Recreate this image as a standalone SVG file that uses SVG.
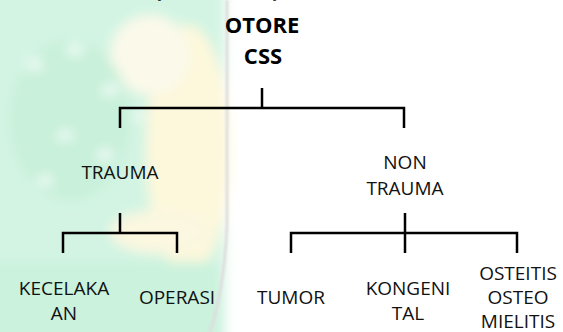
<svg xmlns="http://www.w3.org/2000/svg" width="563" height="332" viewBox="0 0 563 332">
  <style>
    .lbl { font-family: "Open Sans", "Liberation Sans", sans-serif; font-size: 19px; fill: #111; text-anchor: middle; }
    .ttl { font-family: "Open Sans", "Liberation Sans", sans-serif; font-size: 22px; font-weight: bold; fill: #000; text-anchor: middle; }
    .wire { fill: none; stroke: #000; stroke-width: 2.5; stroke-linecap: butt; stroke-linejoin: miter; }
  </style>
  <defs>
    <filter id="soft" x="-20%" y="-20%" width="140%" height="140%">
      <feGaussianBlur stdDeviation="6"/>
    </filter>
    <filter id="softer" x="-20%" y="-20%" width="140%" height="140%">
      <feGaussianBlur stdDeviation="1.2"/>
    </filter>
  </defs>

  <rect width="563" height="332" fill="#ffffff"/>

  <!-- faded emblem in the background, left half -->
  <g id="watermark">
    <g filter="url(#soft)">
      <rect x="-20" y="-20" width="245" height="372" fill="#d3f4e3"/>
      <ellipse cx="188" cy="150" rx="42" ry="125" fill="#fdf8dc"/>
      <ellipse cx="150" cy="55" rx="40" ry="40" fill="#fbf9ea"/>
      <ellipse cx="70" cy="120" rx="60" ry="80" fill="#c8f0da"/>
      <path d="M25 70 q10 -25 20 0 z M65 55 q10 -25 20 0 z M100 95 q10 -25 20 0 z M55 140 q10 -22 20 0 z M35 185 q10 -22 20 0 z M95 160 q10 -25 20 0 z M130 120 q8 -20 16 0 z" fill="#effbf5"/>
      <ellipse cx="160" cy="232" rx="50" ry="22" fill="#fbf7e0"/>
      <rect x="-20" y="262" width="240" height="90" fill="#caf2dd"/>
    </g>
    <path d="M227 0 L227 225 Q224 290 210 332" fill="none" stroke="#dedede" stroke-width="3" filter="url(#softer)"/>
  </g>

  <!-- fragment of the line above -->
  <text class="ttl" x="158" y="-3">(</text>
  <text class="ttl" x="276" y="-3">)</text>

  <g id="connectors">
    <!-- root to first level -->
    <path class="wire" d="M262 88 V108 M120 128 V108 H404 V128"/>
    <!-- TRAUMA branch -->
    <path class="wire" d="M120 213 V233 M63 253 V233 H177 V253"/>
    <!-- NON TRAUMA branch -->
    <path class="wire" d="M405 213 V253 M291 253 V233 H517 V253"/>
  </g>

  <g id="root">
    <text class="ttl" x="262" y="33">OTORE</text>
    <text class="ttl" x="263" y="64">CSS</text>
  </g>

  <g id="trauma">
    <text class="lbl" x="120" y="179">TRAUMA</text>
  </g>

  <g id="non-trauma">
    <text class="lbl" x="405" y="169">NON</text>
    <text class="lbl" x="405" y="195">TRAUMA</text>
  </g>

  <g id="kecelakaan">
    <text class="lbl" x="64" y="295">KECELAKA</text>
    <text class="lbl" x="64" y="320">AN</text>
  </g>

  <g id="operasi">
    <text class="lbl" x="177" y="304">OPERASI</text>
  </g>

  <g id="tumor">
    <text class="lbl" x="291" y="304">TUMOR</text>
  </g>

  <g id="kongenital">
    <text class="lbl" x="408" y="295">KONGENI</text>
    <text class="lbl" x="408" y="320">TAL</text>
  </g>

  <g id="osteitis">
    <text class="lbl" x="518" y="280">OSTEITIS</text>
    <text class="lbl" x="518" y="304">OSTEO</text>
    <text class="lbl" x="518" y="328">MIELITIS</text>
  </g>
</svg>
